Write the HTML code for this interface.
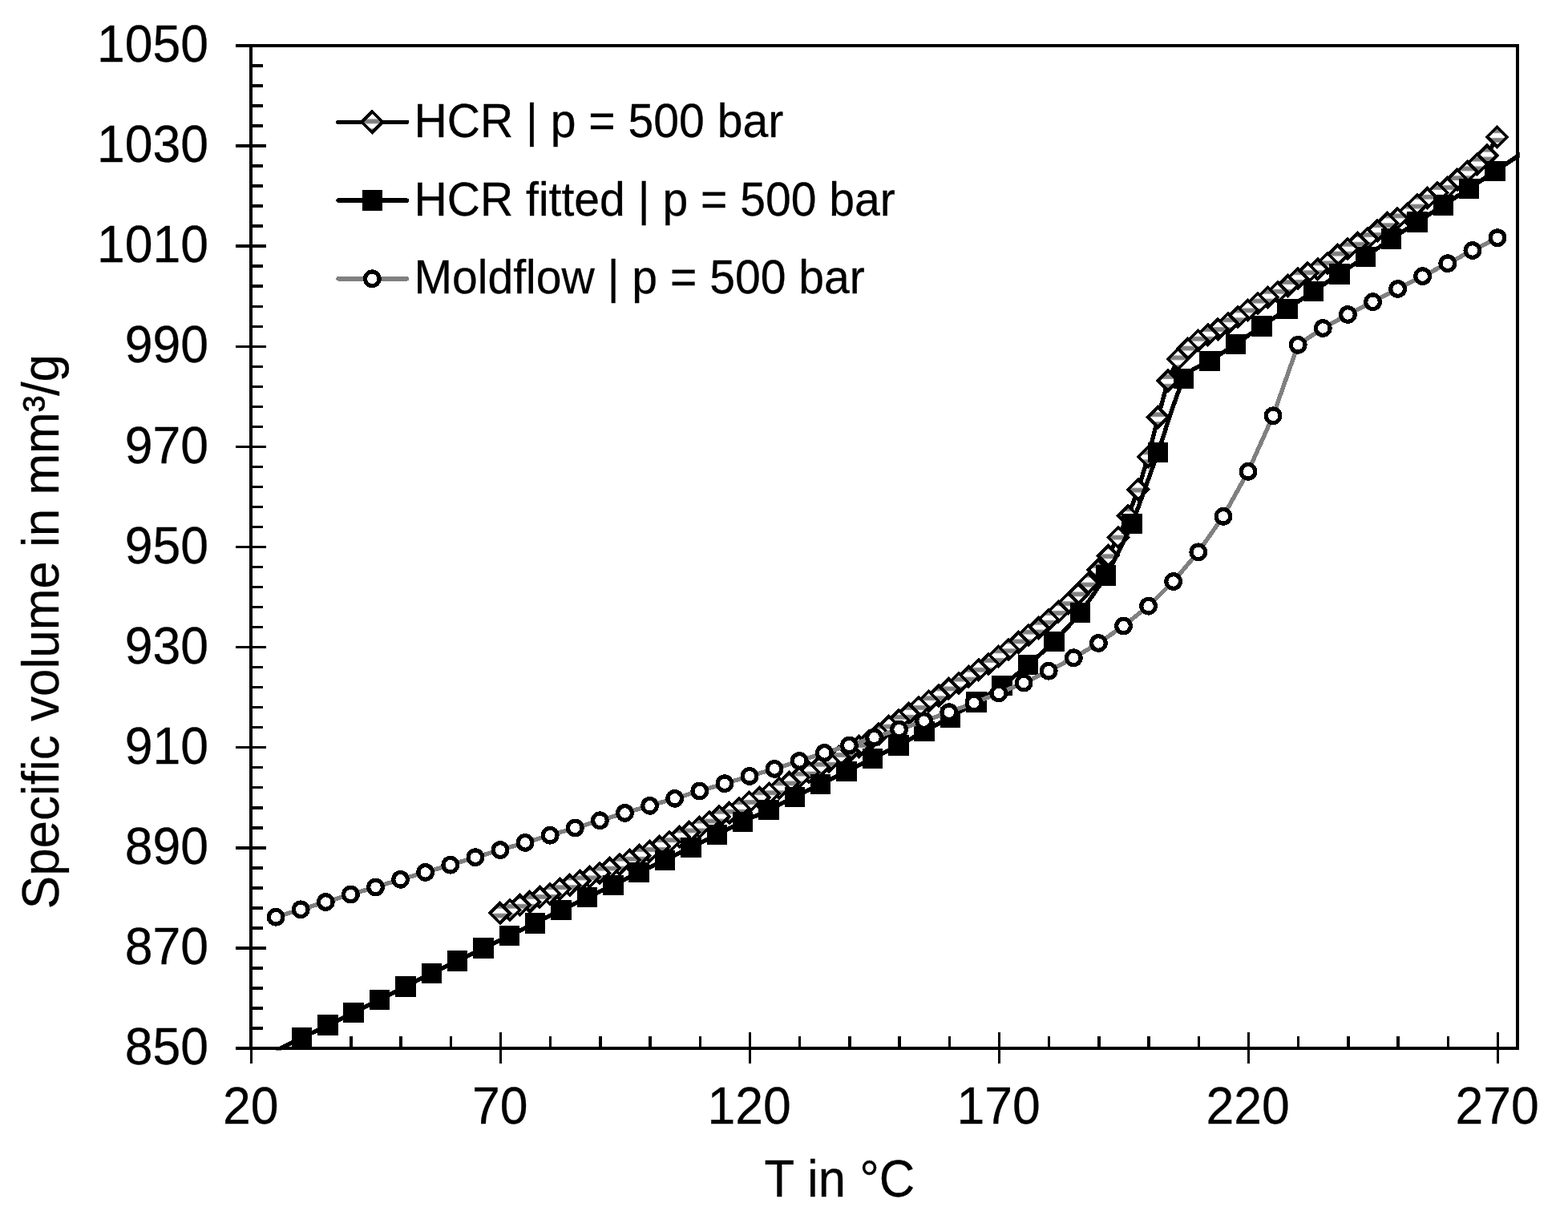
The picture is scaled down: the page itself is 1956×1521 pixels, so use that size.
<!DOCTYPE html>
<html lang="en"><head><meta charset="utf-8"><title>Specific volume vs. temperature</title>
<style>html,body{margin:0;padding:0;background:#fff}body{width:1956px;height:1521px;overflow:hidden}svg{display:block}text{font-family:"Liberation Sans",Arial,Helvetica,sans-serif;fill:#000;stroke:#000;stroke-width:0.3px}</style></head><body>
<svg width="1956" height="1521" viewBox="0 0 1956 1521" shape-rendering="crispEdges">
<defs>
<linearGradient id="sg" x1="0" y1="0" x2="0" y2="1"><stop offset="0" stop-color="#fff"/><stop offset="0.2" stop-color="#fff"/><stop offset="0.31" stop-color="#808080"/><stop offset="0.69" stop-color="#808080"/><stop offset="0.8" stop-color="#fff"/><stop offset="1" stop-color="#fff"/></linearGradient>
<pattern id="dg" patternUnits="userSpaceOnUse" x="0" y="145.5" width="64" height="11.8"><rect width="64" height="11.8" fill="url(#sg)"/></pattern>
<clipPath id="cp"><rect x="313" y="57" width="1582.8" height="1253.6"/></clipPath>
</defs>
<rect width="1956" height="1521" fill="#fff"/>
<g clip-path="url(#cp)"><path d="M623.6 1139.3 L636.04 1135.6 L648.48 1129.3 L660.92 1125.1 L673.36 1119.3 L685.8 1115.4 L698.24 1109.3 L710.68 1104.2 L723.12 1099.2 L735.56 1094.2 L748 1089.2 L760.44 1083.3 L772.88 1078.3 L785.32 1073.3 L797.76 1067.2 L810.2 1062.2 L822.64 1056.1 L835.08 1050.3 L847.52 1044.3 L859.96 1038.2 L872.4 1032.2 L884.84 1025.5 L897.28 1018.8 L909.72 1014.2 L922.16 1008.4 L934.6 1001 L947.04 995.2 L959.48 990 L971.92 983.5 L984.36 976.4 L996.8 970 L1009.24 963.6 L1021.68 957.2 L1034.12 950.7 L1046.56 944.3 L1059 937.9 L1071.44 931.5 L1083.88 924.4 L1096.32 915.6 L1108.76 906.4 L1121.2 898.5 L1133.64 890.3 L1146.08 882.4 L1158.52 874.7 L1170.96 868 L1183.4 859.4 L1195.84 852.4 L1208.28 844.4 L1220.72 835.7 L1233.16 828.6 L1245.6 819 L1258.04 810.6 L1270.48 801.4 L1282.92 792.7 L1295.36 783.5 L1307.8 773.4 L1320.24 763.4 L1332.68 752.6 L1345.12 741 L1357.56 727.8 L1370 711 L1382.44 693.3 L1394.88 670.4 L1407.32 643.6 L1419.76 610.8 L1432.2 570 L1444.64 520.5 L1457.08 475 L1469.52 448 L1481.96 435.2 L1494.4 424.8 L1506.84 417.7 L1519.28 410.6 L1531.72 403.6 L1544.16 395.5 L1556.6 386.8 L1569.04 378.4 L1581.48 370.7 L1593.92 364.6 L1606.36 356.5 L1618.8 347.5 L1631.24 340.6 L1643.68 335.6 L1656.12 328.5 L1668.56 318.5 L1681 310.6 L1693.44 303.5 L1705.88 297.6 L1718.32 287.6 L1730.76 278.4 L1743.2 272.6 L1755.64 266.9 L1768.08 255.3 L1780.52 247.3 L1792.96 240.6 L1805.4 234.3 L1817.84 224.3 L1830.28 214.3 L1842.72 204.8 L1855.16 194 L1867.6 170.9" fill="none" stroke="#000" stroke-width="5.4" stroke-linejoin="round" stroke-linecap="round"/></g>
<g fill="url(#dg)" stroke="#000" stroke-width="3.9" stroke-linejoin="miter">
<path d="M1867.6 158.5 l12.4 12.4 l-12.4 12.4 l-12.4 -12.4z"/>
<path d="M1855.16 181.6 l12.4 12.4 l-12.4 12.4 l-12.4 -12.4z"/>
<path d="M1842.72 192.4 l12.4 12.4 l-12.4 12.4 l-12.4 -12.4z"/>
<path d="M1830.28 201.9 l12.4 12.4 l-12.4 12.4 l-12.4 -12.4z"/>
<path d="M1817.84 211.9 l12.4 12.4 l-12.4 12.4 l-12.4 -12.4z"/>
<path d="M1805.4 221.9 l12.4 12.4 l-12.4 12.4 l-12.4 -12.4z"/>
<path d="M1792.96 228.2 l12.4 12.4 l-12.4 12.4 l-12.4 -12.4z"/>
<path d="M1780.52 234.9 l12.4 12.4 l-12.4 12.4 l-12.4 -12.4z"/>
<path d="M1768.08 242.9 l12.4 12.4 l-12.4 12.4 l-12.4 -12.4z"/>
<path d="M1755.64 254.5 l12.4 12.4 l-12.4 12.4 l-12.4 -12.4z"/>
<path d="M1743.2 260.2 l12.4 12.4 l-12.4 12.4 l-12.4 -12.4z"/>
<path d="M1730.76 266 l12.4 12.4 l-12.4 12.4 l-12.4 -12.4z"/>
<path d="M1718.32 275.2 l12.4 12.4 l-12.4 12.4 l-12.4 -12.4z"/>
<path d="M1705.88 285.2 l12.4 12.4 l-12.4 12.4 l-12.4 -12.4z"/>
<path d="M1693.44 291.1 l12.4 12.4 l-12.4 12.4 l-12.4 -12.4z"/>
<path d="M1681 298.2 l12.4 12.4 l-12.4 12.4 l-12.4 -12.4z"/>
<path d="M1668.56 306.1 l12.4 12.4 l-12.4 12.4 l-12.4 -12.4z"/>
<path d="M1656.12 316.1 l12.4 12.4 l-12.4 12.4 l-12.4 -12.4z"/>
<path d="M1643.68 323.2 l12.4 12.4 l-12.4 12.4 l-12.4 -12.4z"/>
<path d="M1631.24 328.2 l12.4 12.4 l-12.4 12.4 l-12.4 -12.4z"/>
<path d="M1618.8 335.1 l12.4 12.4 l-12.4 12.4 l-12.4 -12.4z"/>
<path d="M1606.36 344.1 l12.4 12.4 l-12.4 12.4 l-12.4 -12.4z"/>
<path d="M1593.92 352.2 l12.4 12.4 l-12.4 12.4 l-12.4 -12.4z"/>
<path d="M1581.48 358.3 l12.4 12.4 l-12.4 12.4 l-12.4 -12.4z"/>
<path d="M1569.04 366 l12.4 12.4 l-12.4 12.4 l-12.4 -12.4z"/>
<path d="M1556.6 374.4 l12.4 12.4 l-12.4 12.4 l-12.4 -12.4z"/>
<path d="M1544.16 383.1 l12.4 12.4 l-12.4 12.4 l-12.4 -12.4z"/>
<path d="M1531.72 391.2 l12.4 12.4 l-12.4 12.4 l-12.4 -12.4z"/>
<path d="M1519.28 398.2 l12.4 12.4 l-12.4 12.4 l-12.4 -12.4z"/>
<path d="M1506.84 405.3 l12.4 12.4 l-12.4 12.4 l-12.4 -12.4z"/>
<path d="M1494.4 412.4 l12.4 12.4 l-12.4 12.4 l-12.4 -12.4z"/>
<path d="M1481.96 422.8 l12.4 12.4 l-12.4 12.4 l-12.4 -12.4z"/>
<path d="M1469.52 435.6 l12.4 12.4 l-12.4 12.4 l-12.4 -12.4z"/>
<path d="M1457.08 462.6 l12.4 12.4 l-12.4 12.4 l-12.4 -12.4z"/>
<path d="M1444.64 508.1 l12.4 12.4 l-12.4 12.4 l-12.4 -12.4z"/>
<path d="M1432.2 557.6 l12.4 12.4 l-12.4 12.4 l-12.4 -12.4z"/>
<path d="M1419.76 598.4 l12.4 12.4 l-12.4 12.4 l-12.4 -12.4z"/>
<path d="M1407.32 631.2 l12.4 12.4 l-12.4 12.4 l-12.4 -12.4z"/>
<path d="M1394.88 658 l12.4 12.4 l-12.4 12.4 l-12.4 -12.4z"/>
<path d="M1382.44 680.9 l12.4 12.4 l-12.4 12.4 l-12.4 -12.4z"/>
<path d="M1370 698.6 l12.4 12.4 l-12.4 12.4 l-12.4 -12.4z"/>
<path d="M1357.56 715.4 l12.4 12.4 l-12.4 12.4 l-12.4 -12.4z"/>
<path d="M1345.12 728.6 l12.4 12.4 l-12.4 12.4 l-12.4 -12.4z"/>
<path d="M1332.68 740.2 l12.4 12.4 l-12.4 12.4 l-12.4 -12.4z"/>
<path d="M1320.24 751 l12.4 12.4 l-12.4 12.4 l-12.4 -12.4z"/>
<path d="M1307.8 761 l12.4 12.4 l-12.4 12.4 l-12.4 -12.4z"/>
<path d="M1295.36 771.1 l12.4 12.4 l-12.4 12.4 l-12.4 -12.4z"/>
<path d="M1282.92 780.3 l12.4 12.4 l-12.4 12.4 l-12.4 -12.4z"/>
<path d="M1270.48 789 l12.4 12.4 l-12.4 12.4 l-12.4 -12.4z"/>
<path d="M1258.04 798.2 l12.4 12.4 l-12.4 12.4 l-12.4 -12.4z"/>
<path d="M1245.6 806.6 l12.4 12.4 l-12.4 12.4 l-12.4 -12.4z"/>
<path d="M1233.16 816.2 l12.4 12.4 l-12.4 12.4 l-12.4 -12.4z"/>
<path d="M1220.72 823.3 l12.4 12.4 l-12.4 12.4 l-12.4 -12.4z"/>
<path d="M1208.28 832 l12.4 12.4 l-12.4 12.4 l-12.4 -12.4z"/>
<path d="M1195.84 840 l12.4 12.4 l-12.4 12.4 l-12.4 -12.4z"/>
<path d="M1183.4 847 l12.4 12.4 l-12.4 12.4 l-12.4 -12.4z"/>
<path d="M1170.96 855.6 l12.4 12.4 l-12.4 12.4 l-12.4 -12.4z"/>
<path d="M1158.52 862.3 l12.4 12.4 l-12.4 12.4 l-12.4 -12.4z"/>
<path d="M1146.08 870 l12.4 12.4 l-12.4 12.4 l-12.4 -12.4z"/>
<path d="M1133.64 877.9 l12.4 12.4 l-12.4 12.4 l-12.4 -12.4z"/>
<path d="M1121.2 886.1 l12.4 12.4 l-12.4 12.4 l-12.4 -12.4z"/>
<path d="M1108.76 894 l12.4 12.4 l-12.4 12.4 l-12.4 -12.4z"/>
<path d="M1096.32 903.2 l12.4 12.4 l-12.4 12.4 l-12.4 -12.4z"/>
<path d="M1083.88 912 l12.4 12.4 l-12.4 12.4 l-12.4 -12.4z"/>
<path d="M1071.44 919.1 l12.4 12.4 l-12.4 12.4 l-12.4 -12.4z"/>
<path d="M1059 925.5 l12.4 12.4 l-12.4 12.4 l-12.4 -12.4z"/>
<path d="M1046.56 931.9 l12.4 12.4 l-12.4 12.4 l-12.4 -12.4z"/>
<path d="M1034.12 938.3 l12.4 12.4 l-12.4 12.4 l-12.4 -12.4z"/>
<path d="M1021.68 944.8 l12.4 12.4 l-12.4 12.4 l-12.4 -12.4z"/>
<path d="M1009.24 951.2 l12.4 12.4 l-12.4 12.4 l-12.4 -12.4z"/>
<path d="M996.8 957.6 l12.4 12.4 l-12.4 12.4 l-12.4 -12.4z"/>
<path d="M984.36 964 l12.4 12.4 l-12.4 12.4 l-12.4 -12.4z"/>
<path d="M971.92 971.1 l12.4 12.4 l-12.4 12.4 l-12.4 -12.4z"/>
<path d="M959.48 977.6 l12.4 12.4 l-12.4 12.4 l-12.4 -12.4z"/>
<path d="M947.04 982.8 l12.4 12.4 l-12.4 12.4 l-12.4 -12.4z"/>
<path d="M934.6 988.6 l12.4 12.4 l-12.4 12.4 l-12.4 -12.4z"/>
<path d="M922.16 996 l12.4 12.4 l-12.4 12.4 l-12.4 -12.4z"/>
<path d="M909.72 1001.8 l12.4 12.4 l-12.4 12.4 l-12.4 -12.4z"/>
<path d="M897.28 1006.4 l12.4 12.4 l-12.4 12.4 l-12.4 -12.4z"/>
<path d="M884.84 1013.1 l12.4 12.4 l-12.4 12.4 l-12.4 -12.4z"/>
<path d="M872.4 1019.8 l12.4 12.4 l-12.4 12.4 l-12.4 -12.4z"/>
<path d="M859.96 1025.8 l12.4 12.4 l-12.4 12.4 l-12.4 -12.4z"/>
<path d="M847.52 1031.9 l12.4 12.4 l-12.4 12.4 l-12.4 -12.4z"/>
<path d="M835.08 1037.9 l12.4 12.4 l-12.4 12.4 l-12.4 -12.4z"/>
<path d="M822.64 1043.7 l12.4 12.4 l-12.4 12.4 l-12.4 -12.4z"/>
<path d="M810.2 1049.8 l12.4 12.4 l-12.4 12.4 l-12.4 -12.4z"/>
<path d="M797.76 1054.8 l12.4 12.4 l-12.4 12.4 l-12.4 -12.4z"/>
<path d="M785.32 1060.9 l12.4 12.4 l-12.4 12.4 l-12.4 -12.4z"/>
<path d="M772.88 1065.9 l12.4 12.4 l-12.4 12.4 l-12.4 -12.4z"/>
<path d="M760.44 1070.9 l12.4 12.4 l-12.4 12.4 l-12.4 -12.4z"/>
<path d="M748 1076.8 l12.4 12.4 l-12.4 12.4 l-12.4 -12.4z"/>
<path d="M735.56 1081.8 l12.4 12.4 l-12.4 12.4 l-12.4 -12.4z"/>
<path d="M723.12 1086.8 l12.4 12.4 l-12.4 12.4 l-12.4 -12.4z"/>
<path d="M710.68 1091.8 l12.4 12.4 l-12.4 12.4 l-12.4 -12.4z"/>
<path d="M698.24 1096.9 l12.4 12.4 l-12.4 12.4 l-12.4 -12.4z"/>
<path d="M685.8 1103 l12.4 12.4 l-12.4 12.4 l-12.4 -12.4z"/>
<path d="M673.36 1106.9 l12.4 12.4 l-12.4 12.4 l-12.4 -12.4z"/>
<path d="M660.92 1112.7 l12.4 12.4 l-12.4 12.4 l-12.4 -12.4z"/>
<path d="M648.48 1116.9 l12.4 12.4 l-12.4 12.4 l-12.4 -12.4z"/>
<path d="M636.04 1123.2 l12.4 12.4 l-12.4 12.4 l-12.4 -12.4z"/>
<path d="M623.6 1126.9 l12.4 12.4 l-12.4 12.4 l-12.4 -12.4z"/>
</g>
<g clip-path="url(#cp)"><path d="M344.14 1310.8 C347.92 1308.93 368.95 1298.49 376.5 1294.8 C384.05 1291.11 401.31 1282.84 408.86 1279.2 C416.41 1275.56 433.67 1267.32 441.22 1263.6 C448.77 1259.88 466.03 1251.12 473.58 1247.3 C481.13 1243.48 498.39 1234.73 505.94 1230.9 C513.49 1227.07 530.75 1218.2 538.3 1214.5 C545.85 1210.8 563.11 1202.86 570.66 1199.2 C578.21 1195.54 595.47 1186.8 603.02 1183.1 C610.57 1179.4 627.83 1171.15 635.38 1167.5 C642.93 1163.85 660.19 1155.51 667.74 1151.8 C675.29 1148.09 692.55 1139.44 700.1 1135.7 C707.65 1131.96 724.91 1123.34 732.46 1119.7 C740.01 1116.06 757.27 1108.14 764.82 1104.5 C772.37 1100.86 789.63 1092.14 797.18 1088.5 C804.73 1084.86 821.99 1076.94 829.54 1073.3 C837.09 1069.66 854.35 1061.01 861.9 1057.3 C869.45 1053.59 886.71 1045.21 894.26 1041.5 C901.81 1037.79 919.07 1029.14 926.62 1025.5 C934.17 1021.86 951.43 1013.94 958.98 1010.3 C966.53 1006.66 983.79 998.03 991.34 994.3 C998.89 990.57 1016.15 982.02 1023.7 978.3 C1031.25 974.58 1048.51 966.13 1056.06 962.4 C1063.61 958.67 1080.87 950.07 1088.42 946.3 C1095.97 942.53 1113.23 934.04 1120.78 930.1 C1128.33 926.16 1145.59 916.62 1153.14 912.5 C1160.69 908.38 1177.95 899.08 1185.5 894.8 C1193.05 890.52 1210.31 880.41 1217.86 875.8 C1225.41 871.19 1242.67 860.7 1250.22 855.3 C1257.77 849.9 1275.03 835.92 1282.58 829.5 C1290.13 823.08 1307.39 807.88 1314.94 800.3 C1322.49 792.72 1339.75 774.12 1347.3 764.5 C1354.85 754.88 1372.11 730.75 1379.66 717.8 C1387.21 704.85 1404.47 671.38 1412.02 653.5 C1419.57 635.62 1436.83 585.63 1444.38 564.5 C1451.93 543.37 1469.19 485.7 1476.74 472.4 C1484.29 459.1 1501.55 455.53 1509.1 450.5 C1516.65 445.47 1533.91 434.38 1541.46 429.3 C1549.01 424.23 1566.27 412.13 1573.82 407 C1581.37 401.87 1598.63 390.4 1606.18 385.3 C1613.73 380.2 1630.99 368.38 1638.54 363.3 C1646.09 358.23 1663.35 346.82 1670.9 341.8 C1678.45 336.78 1695.71 325.4 1703.26 320.3 C1710.81 315.2 1728.07 303.13 1735.62 298.1 C1743.17 293.07 1760.43 282.1 1767.98 277.2 C1775.53 272.3 1792.79 260.99 1800.34 256.1 C1807.89 251.21 1825.15 240.26 1832.7 235.3 C1840.25 230.34 1857.51 218.65 1865.06 213.6 C1872.61 208.55 1893.64 194.52 1897.42 192" fill="none" stroke="#000" stroke-width="5.4" stroke-linejoin="round"/></g>
<path fill="#000" d="M363.75 1282.05h25.5v25.5h-25.5zM396.11 1266.45h25.5v25.5h-25.5zM428.47 1250.85h25.5v25.5h-25.5zM460.83 1234.55h25.5v25.5h-25.5zM493.19 1218.15h25.5v25.5h-25.5zM525.55 1201.75h25.5v25.5h-25.5zM557.91 1186.45h25.5v25.5h-25.5zM590.27 1170.35h25.5v25.5h-25.5zM622.63 1154.75h25.5v25.5h-25.5zM654.99 1139.05h25.5v25.5h-25.5zM687.35 1122.95h25.5v25.5h-25.5zM719.71 1106.95h25.5v25.5h-25.5zM752.07 1091.75h25.5v25.5h-25.5zM784.43 1075.75h25.5v25.5h-25.5zM816.79 1060.55h25.5v25.5h-25.5zM849.15 1044.55h25.5v25.5h-25.5zM881.51 1028.75h25.5v25.5h-25.5zM913.87 1012.75h25.5v25.5h-25.5zM946.23 997.55h25.5v25.5h-25.5zM978.59 981.55h25.5v25.5h-25.5zM1010.95 965.55h25.5v25.5h-25.5zM1043.31 949.65h25.5v25.5h-25.5zM1075.67 933.55h25.5v25.5h-25.5zM1108.03 917.35h25.5v25.5h-25.5zM1140.39 899.75h25.5v25.5h-25.5zM1172.75 882.05h25.5v25.5h-25.5zM1205.11 863.05h25.5v25.5h-25.5zM1237.47 842.55h25.5v25.5h-25.5zM1269.83 816.75h25.5v25.5h-25.5zM1302.19 787.55h25.5v25.5h-25.5zM1334.55 751.75h25.5v25.5h-25.5zM1366.91 705.05h25.5v25.5h-25.5zM1399.27 640.75h25.5v25.5h-25.5zM1431.63 551.75h25.5v25.5h-25.5zM1463.99 459.65h25.5v25.5h-25.5zM1496.35 437.75h25.5v25.5h-25.5zM1528.71 416.55h25.5v25.5h-25.5zM1561.07 394.25h25.5v25.5h-25.5zM1593.43 372.55h25.5v25.5h-25.5zM1625.79 350.55h25.5v25.5h-25.5zM1658.15 329.05h25.5v25.5h-25.5zM1690.51 307.55h25.5v25.5h-25.5zM1722.87 285.35h25.5v25.5h-25.5zM1755.23 264.45h25.5v25.5h-25.5zM1787.59 243.35h25.5v25.5h-25.5zM1819.95 222.55h25.5v25.5h-25.5zM1852.31 200.85h25.5v25.5h-25.5z"/>
<g><path d="M344.1 1144.2 L375.2 1134.8 L406.3 1125.5 L437.4 1116 L468.5 1106.9 L499.6 1097.3 L530.7 1088.4 L561.8 1079.2 L592.9 1069.7 L624 1060.6 L655.1 1051.4 L686.2 1042.2 L717.3 1033 L748.4 1023.8 L779.5 1014.4 L810.6 1005.3 L841.7 996.3 L872.8 987 L903.9 977.7 L935 968.4 L966.1 959.4 L997.2 949.4 L1028.3 939.4 L1059.4 930.1 L1090.5 920.1 L1121.6 910.1 L1152.7 899.6 L1183.8 888.7 L1214.9 877 L1246 865 L1277.1 852 L1308.2 837.2 L1339.3 820.8 L1370.4 802.5 L1401.5 781 L1432.6 756.2 L1463.7 725.5 L1494.8 688.8 L1525.9 644.3 L1557 588.3 L1588.1 518.8 L1619.2 430.3 L1650.3 409.5 L1681.4 392.5 L1712.5 376.7 L1743.6 360.5 L1774.7 344.6 L1805.8 328.7 L1836.9 312.5 L1868 296.7" fill="none" stroke="#808080" stroke-width="5.4" stroke-linejoin="round"/>
<g fill="#fff" stroke="#000" stroke-width="5.2">
<circle cx="344.1" cy="1144.2" r="8.8"/>
<circle cx="375.2" cy="1134.8" r="8.8"/>
<circle cx="406.3" cy="1125.5" r="8.8"/>
<circle cx="437.4" cy="1116" r="8.8"/>
<circle cx="468.5" cy="1106.9" r="8.8"/>
<circle cx="499.6" cy="1097.3" r="8.8"/>
<circle cx="530.7" cy="1088.4" r="8.8"/>
<circle cx="561.8" cy="1079.2" r="8.8"/>
<circle cx="592.9" cy="1069.7" r="8.8"/>
<circle cx="624" cy="1060.6" r="8.8"/>
<circle cx="655.1" cy="1051.4" r="8.8"/>
<circle cx="686.2" cy="1042.2" r="8.8"/>
<circle cx="717.3" cy="1033" r="8.8"/>
<circle cx="748.4" cy="1023.8" r="8.8"/>
<circle cx="779.5" cy="1014.4" r="8.8"/>
<circle cx="810.6" cy="1005.3" r="8.8"/>
<circle cx="841.7" cy="996.3" r="8.8"/>
<circle cx="872.8" cy="987" r="8.8"/>
<circle cx="903.9" cy="977.7" r="8.8"/>
<circle cx="935" cy="968.4" r="8.8"/>
<circle cx="966.1" cy="959.4" r="8.8"/>
<circle cx="997.2" cy="949.4" r="8.8"/>
<circle cx="1028.3" cy="939.4" r="8.8"/>
<circle cx="1059.4" cy="930.1" r="8.8"/>
<circle cx="1090.5" cy="920.1" r="8.8"/>
<circle cx="1121.6" cy="910.1" r="8.8"/>
<circle cx="1152.7" cy="899.6" r="8.8"/>
<circle cx="1183.8" cy="888.7" r="8.8"/>
<circle cx="1214.9" cy="877" r="8.8"/>
<circle cx="1246" cy="865" r="8.8"/>
<circle cx="1277.1" cy="852" r="8.8"/>
<circle cx="1308.2" cy="837.2" r="8.8"/>
<circle cx="1339.3" cy="820.8" r="8.8"/>
<circle cx="1370.4" cy="802.5" r="8.8"/>
<circle cx="1401.5" cy="781" r="8.8"/>
<circle cx="1432.6" cy="756.2" r="8.8"/>
<circle cx="1463.7" cy="725.5" r="8.8"/>
<circle cx="1494.8" cy="688.8" r="8.8"/>
<circle cx="1525.9" cy="644.3" r="8.8"/>
<circle cx="1557" cy="588.3" r="8.8"/>
<circle cx="1588.1" cy="518.8" r="8.8"/>
<circle cx="1619.2" cy="430.3" r="8.8"/>
<circle cx="1650.3" cy="409.5" r="8.8"/>
<circle cx="1681.4" cy="392.5" r="8.8"/>
<circle cx="1712.5" cy="376.7" r="8.8"/>
<circle cx="1743.6" cy="360.5" r="8.8"/>
<circle cx="1774.7" cy="344.6" r="8.8"/>
<circle cx="1805.8" cy="328.7" r="8.8"/>
<circle cx="1836.9" cy="312.5" r="8.8"/>
<circle cx="1868" cy="296.7" r="8.8"/>
</g></g>
<path d="M294 55H1895V59H294ZM1891 55H1895V1310H1891ZM311 55H315V1310H311ZM311 1306H1895V1310H311ZM313 80.27H328V83.77H313ZM313 105.29H328V108.79H313ZM313 130.31H328V133.81H313ZM313 155.33H328V158.83H313ZM294 180.35H332V183.85H294ZM313 205.37H328V208.87H313ZM313 230.39H328V233.89H313ZM313 255.41H328V258.91H313ZM313 280.43H328V283.93H313ZM294 305.45H332V308.95H294ZM313 330.47H328V333.97H313ZM313 355.49H328V358.99H313ZM313 380.51H328V384.01H313ZM313 405.53H328V409.03H313ZM294 430.55H332V434.05H294ZM313 455.57H328V459.07H313ZM313 480.59H328V484.09H313ZM313 505.61H328V509.11H313ZM313 530.63H328V534.13H313ZM294 555.65H332V559.15H294ZM313 580.67H328V584.17H313ZM313 605.69H328V609.19H313ZM313 630.71H328V634.21H313ZM313 655.73H328V659.23H313ZM294 680.75H332V684.25H294ZM313 705.77H328V709.27H313ZM313 730.79H328V734.29H313ZM313 755.81H328V759.31H313ZM313 780.83H328V784.33H313ZM294 805.85H332V809.35H294ZM313 830.87H328V834.37H313ZM313 855.89H328V859.39H313ZM313 880.91H328V884.41H313ZM313 905.93H328V909.43H313ZM294 930.95H332V934.45H294ZM313 955.97H328V959.47H313ZM313 980.99H328V984.49H313ZM313 1006.01H328V1009.51H313ZM313 1031.03H328V1034.53H313ZM294 1056.05H332V1059.55H294ZM313 1081.07H328V1084.57H313ZM313 1106.09H328V1109.59H313ZM313 1131.11H328V1134.61H313ZM313 1156.13H328V1159.63H313ZM294 1181.15H332V1184.65H294ZM313 1206.17H328V1209.67H313ZM313 1231.19H328V1234.69H313ZM313 1256.21H328V1259.71H313ZM313 1281.23H328V1284.73H313ZM294 1306.25H332V1309.75H294ZM311.75 1288H315.25V1327H311.75ZM373.95 1293H377.45V1308H373.95ZM436.15 1293H439.65V1308H436.15ZM498.35 1293H501.85V1308H498.35ZM560.55 1293H564.05V1308H560.55ZM622.75 1288H626.25V1327H622.75ZM684.95 1293H688.45V1308H684.95ZM747.15 1293H750.65V1308H747.15ZM809.35 1293H812.85V1308H809.35ZM871.55 1293H875.05V1308H871.55ZM933.75 1288H937.25V1327H933.75ZM995.95 1293H999.45V1308H995.95ZM1058.15 1293H1061.65V1308H1058.15ZM1120.35 1293H1123.85V1308H1120.35ZM1182.55 1293H1186.05V1308H1182.55ZM1244.75 1288H1248.25V1327H1244.75ZM1306.95 1293H1310.45V1308H1306.95ZM1369.15 1293H1372.65V1308H1369.15ZM1431.35 1293H1434.85V1308H1431.35ZM1493.55 1293H1497.05V1308H1493.55ZM1555.75 1288H1559.25V1327H1555.75ZM1617.95 1293H1621.45V1308H1617.95ZM1680.15 1293H1683.65V1308H1680.15ZM1742.35 1293H1745.85V1308H1742.35ZM1804.55 1293H1808.05V1308H1804.55ZM1866.75 1288H1870.25V1327H1866.75Z" fill="#000"/>
<g>
<text transform="translate(260 77.1) scale(0.9615 1)" font-size="65" text-anchor="end">1050</text>
<text transform="translate(260 202.2) scale(0.9615 1)" font-size="65" text-anchor="end">1030</text>
<text transform="translate(260 327.3) scale(0.9615 1)" font-size="65" text-anchor="end">1010</text>
<text transform="translate(260 452.4) scale(0.9615 1)" font-size="65" text-anchor="end">990</text>
<text transform="translate(260 577.5) scale(0.9615 1)" font-size="65" text-anchor="end">970</text>
<text transform="translate(260 702.6) scale(0.9615 1)" font-size="65" text-anchor="end">950</text>
<text transform="translate(260 827.7) scale(0.9615 1)" font-size="65" text-anchor="end">930</text>
<text transform="translate(260 952.8) scale(0.9615 1)" font-size="65" text-anchor="end">910</text>
<text transform="translate(260 1077.9) scale(0.9615 1)" font-size="65" text-anchor="end">890</text>
<text transform="translate(260 1203) scale(0.9615 1)" font-size="65" text-anchor="end">870</text>
<text transform="translate(260 1328.1) scale(0.9615 1)" font-size="65" text-anchor="end">850</text>
<text transform="translate(312.7 1401.8) scale(0.9615 1)" font-size="65" text-anchor="middle">20</text>
<text transform="translate(623.7 1401.8) scale(0.9615 1)" font-size="65" text-anchor="middle">70</text>
<text transform="translate(934.7 1401.8) scale(0.9615 1)" font-size="65" text-anchor="middle">120</text>
<text transform="translate(1245.7 1401.8) scale(0.9615 1)" font-size="65" text-anchor="middle">170</text>
<text transform="translate(1556.7 1401.8) scale(0.9615 1)" font-size="65" text-anchor="middle">220</text>
<text transform="translate(1867.7 1401.8) scale(0.9615 1)" font-size="65" text-anchor="middle">270</text>
</g>
<text transform="translate(1047.4 1492.8) scale(0.9480 1)" font-size="65" text-anchor="middle">T in °C</text>
<text transform="translate(73.3 788.1) rotate(-90) scale(0.9535 1)" font-size="65" text-anchor="middle">Specific volume in mm³/g</text>
<path d="M422 152.4 H507.5" stroke="#000" stroke-width="5.4" stroke-linecap="round" fill="none"/>
<g fill="url(#dg)" stroke="#000" stroke-width="3.9"><path d="M464.3 139.4 l13 13 l-13 13 l-13 -13z"/></g>
<text transform="translate(516.5 170.9) scale(0.9615 1)" font-size="59.4">HCR | p = 500 bar</text>
<path d="M422 250.1 H507.5" stroke="#000" stroke-width="5.4" stroke-linecap="round" fill="none"/>
<path fill="#000" d="M451.55 237.35h25.5v25.5h-25.5z"/>
<text transform="translate(516.5 268.6) scale(0.9615 1)" font-size="59.4">HCR fitted | p = 500 bar</text>
<path d="M422 347.8 H507.5" stroke="#808080" stroke-width="5.4" stroke-linecap="round" fill="none"/>
<circle cx="464.3" cy="347.8" r="8.8" fill="#fff" stroke="#000" stroke-width="5.2"/>
<text transform="translate(516.5 366.3) scale(0.9615 1)" font-size="59.4">Moldflow | p = 500 bar</text>
</svg></body></html>
